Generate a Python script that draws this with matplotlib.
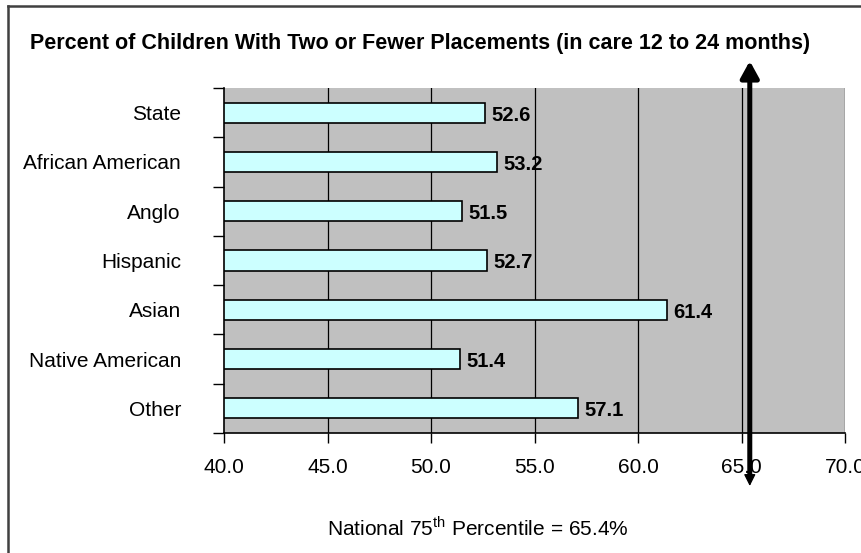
import matplotlib
matplotlib.use("Agg")
import matplotlib.pyplot as plt
from matplotlib.lines import Line2D

plt.rcParams["font.family"] = ["Liberation Sans", "DejaVu Sans"]
plt.rcParams["mathtext.fontset"] = "custom"
plt.rcParams["mathtext.rm"] = "Liberation Sans"

groups = ["State", "African American", "Anglo", "Hispanic", "Asian",
          "Native American", "Other"]
percent = [52.6, 53.2, 51.5, 52.7, 61.4, 51.4, 57.1]
national_75th = 65.4
xticks = [40.0, 45.0, 50.0, 55.0, 60.0, 65.0, 70.0]

fig = plt.figure(figsize=(8.61, 5.53), dpi=100)
ax = fig.add_axes([224 / 861, 1 - 433 / 553, 621 / 861, 345 / 553])
ax.set_facecolor("#c0c0c0")

ypos = list(range(len(groups)))
ax.barh(ypos, [p - 40 for p in percent], left=40, height=0.41,
        color="#ccffff", edgecolor="black", lw=1.2, zorder=3)
for y, p in zip(ypos, percent):
    ax.text(p + 0.3, y + 0.05, f"{p:.1f}", ha="left", va="center",
            fontsize=14.5, weight="bold", zorder=4)

ax.set_xlim(40, 70)
ax.set_ylim(len(groups) - 0.5, -0.5)
ax.set_xticks(xticks)
ax.set_xticklabels([f"{t:.1f}" for t in xticks], fontsize=15)
ax.tick_params(axis="x", direction="out", length=7, width=1, pad=11)
for t in xticks[1:]:
    ax.axvline(t, color="black", lw=0.9, zorder=2)

# category labels sit between outward tick marks on the boundaries
ax.set_yticks(ypos)
ax.set_yticklabels(groups, fontsize=15)
ax.tick_params(axis="y", which="major", length=0, pad=31)
ax.set_yticks([y - 0.5 for y in range(len(groups) + 1)], minor=True)
ax.tick_params(axis="y", which="minor", direction="out", length=8, width=1)

for side in ("top", "right"):
    ax.spines[side].set_visible(False)
ax.spines["left"].set_linewidth(1.2)
ax.spines["bottom"].set_linewidth(1.2)

# national benchmark arrow, running past the plot area
ytop = 1 - 61 / 553
ybot = 1 - 476 / 553
ax.annotate("", xy=(national_75th, ytop), xytext=(national_75th, ybot),
            xycoords=("data", "figure fraction"),
            textcoords=("data", "figure fraction"),
            arrowprops=dict(arrowstyle="-|>,head_length=10,head_width=5.5",
                            mutation_scale=1, lw=3.6, color="black",
                            shrinkA=0, shrinkB=0),
            annotation_clip=False, zorder=6)
ax.annotate("", xy=(national_75th, 1 - 486 / 553),
            xytext=(national_75th, 1 - 474 / 553),
            xycoords=("data", "figure fraction"),
            textcoords=("data", "figure fraction"),
            arrowprops=dict(arrowstyle="-|>,head_length=7,head_width=3.5",
                            mutation_scale=1, lw=1, color="black",
                            shrinkA=0, shrinkB=0),
            annotation_clip=False, zorder=6)

fig.text(420 / 861, 1 - 43 / 553,
         "Percent of Children With Two or Fewer Placements (in care 12 to 24 months)",
         ha="center", va="center", fontsize=15.5, weight="bold")
fig.text(478 / 861, 1 - 528 / 553,
         r"National 75$^{\mathrm{th}}$ Percentile = 65.4%",
         ha="center", va="center", fontsize=15)

# chart frame
fig.add_artist(Line2D([8 / 861, 1.0], [1 - 6 / 553] * 2, color="#404040", lw=1.8))
fig.add_artist(Line2D([8 / 861] * 2, [0.0, 1 - 6 / 553], color="#404040", lw=1.8))

fig.savefig("out.png", dpi=100)
